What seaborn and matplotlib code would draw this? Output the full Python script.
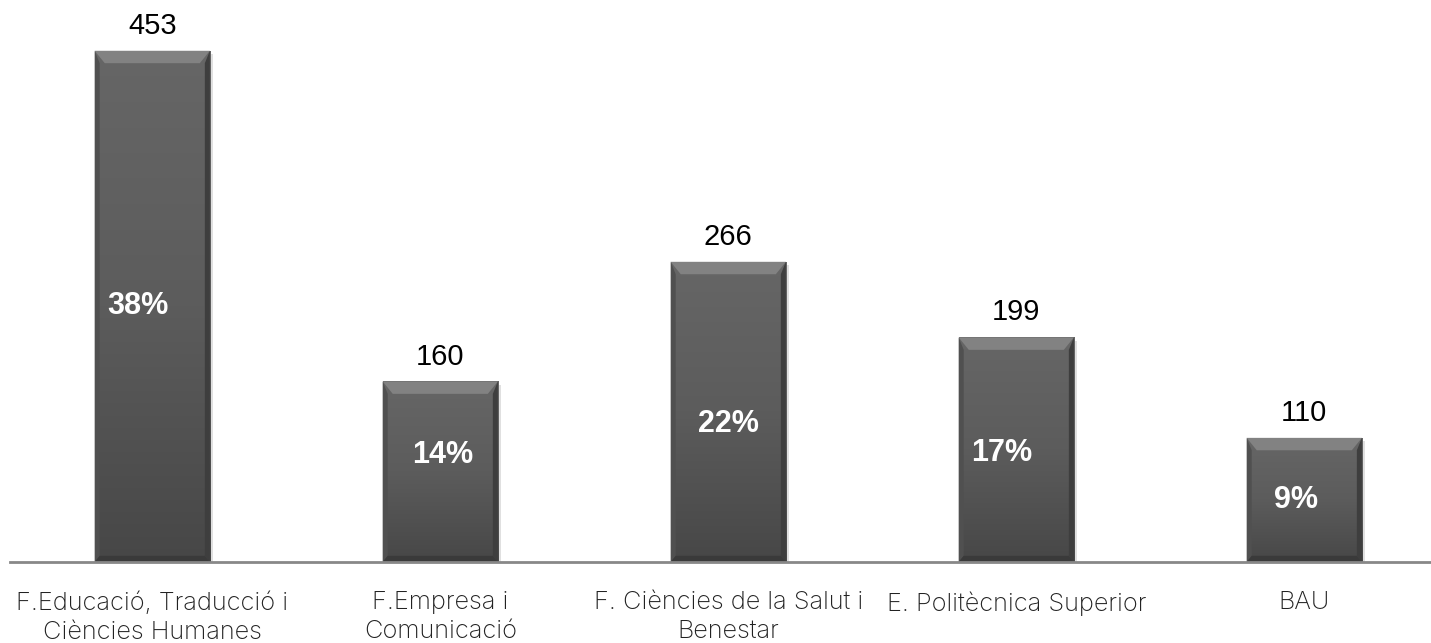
import matplotlib
matplotlib.use('Agg')
import matplotlib.pyplot as plt
from matplotlib.colors import LinearSegmentedColormap
from matplotlib.patches import Polygon
import numpy as np
import seaborn as sns
import pandas as pd

# data
facultats = ['F.Educació, Traducció i\nCiències Humanes', 'F.Empresa i\nComunicació',
             'F. Ciències de la Salut i\nBenestar', 'E. Politècnica Superior', 'BAU']
alumnes = [453, 160, 266, 199, 110]
percentatges = ['38%', '14%', '22%', '17%', '9%']

# where the percent labels sit inside each bar (fraction of height, x shift)
pct_frac = [0.50, 0.59, 0.46, 0.485, 0.50]
pct_dx = [-0.05, 0.01, 0.0, -0.05, -0.03]

df = pd.DataFrame({'facultat': facultats, 'alumnes': alumnes})

sns.set_style('white')
plt.rcParams['font.family'] = ['Liberation Sans', 'DejaVu Sans']

fig = plt.figure(figsize=(14.31, 6.43), dpi=100)
ax = fig.add_axes([10 / 1431, 1 - 562 / 643, 1 - 10 / 1431, 562 / 643])

sns.barplot(data=df, x='facultat', y='alumnes', color='#585858', width=0.40,
            saturation=1, edgecolor='none', ax=ax)

ax.set_xlim(-0.494, 4.44)
ax.set_ylim(0, 498)

# shading on the bars: vertical gradient plus bevelled edges
grad = LinearSegmentedColormap.from_list('g', ['#474747', '#5c5c5c', '#666666'])
dx = 0.035   # bevel width in data units
dy = 11      # bevel height in data units
for p in list(ax.patches):
    x0, w, h = p.get_x(), p.get_width(), p.get_height()
    # soft shadow
    ax.add_patch(plt.Rectangle((x0 + 0.012, -3), w, h, color='#000000', alpha=0.12,
                               lw=0, zorder=1.5))
    im = ax.imshow(np.linspace(0, 1, 256).reshape(-1, 1), cmap=grad, origin='lower',
                   extent=(x0, x0 + w, 0, h), aspect='auto', zorder=2.5)
    im.set_clip_path(p)
    ax.add_patch(Polygon([(x0, h), (x0 + w, h), (x0 + w - dx, h - dy), (x0 + dx, h - dy)],
                         closed=True, color='#828282', lw=0, zorder=3))
    ax.add_patch(Polygon([(x0, h), (x0 + dx * 0.5, h - dy), (x0 + dx * 0.5, dy * 0.5), (x0, 0)],
                         closed=True, color='#505050', lw=0, zorder=3))
    ax.add_patch(Polygon([(x0 + w, h), (x0 + w - dx * 0.5, h - dy), (x0 + w - dx * 0.5, dy * 0.5),
                          (x0 + w, 0)], closed=True, color='#3e3e3e', lw=0, zorder=3))
    ax.add_patch(Polygon([(x0, 0), (x0 + w, 0), (x0 + w - dx * 0.5, dy * 0.5), (x0 + dx * 0.5, dy * 0.5)],
                         closed=True, color='#3a3a3a', lw=0, zorder=3))
ax.set_xlim(-0.494, 4.44)
ax.set_ylim(0, 498)

for i, (v, pct) in enumerate(zip(alumnes, percentatges)):
    ax.text(i, v + 15, str(v), ha='center', va='baseline', fontsize=21, color='black')
    ax.text(i + pct_dx[i], v * pct_frac[i], pct, ha='center', va='center', fontsize=22,
            fontweight='bold', color='white', zorder=4)

ax.set_xlabel('')
ax.set_ylabel('')
ax.set_yticks([])
ax.tick_params(axis='x', length=0, pad=21)
for lbl in ax.get_xticklabels():
    lbl.set_fontsize(18.3)
    lbl.set_family(['Inter', 'DejaVu Sans'])
    lbl.set_fontweight('light')
    lbl.set_color('#222222')
    lbl.set_linespacing(1.33)
for s in ['top', 'left', 'right']:
    ax.spines[s].set_visible(False)
ax.spines['bottom'].set_color('#888888')
ax.spines['bottom'].set_linewidth(2)
ax.spines['bottom'].set_zorder(5)

fig.savefig('out.png', dpi=100)
